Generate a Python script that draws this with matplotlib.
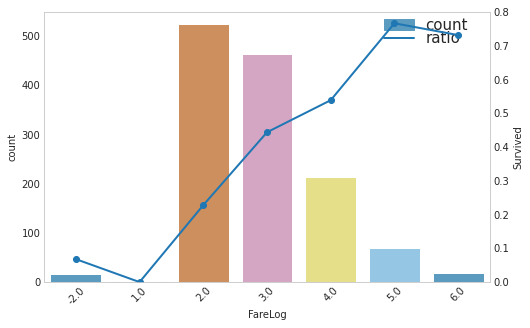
import numpy as np
import matplotlib
matplotlib.use("Agg")
import matplotlib.pyplot as plt
import seaborn as sns
from matplotlib.patches import Patch
from matplotlib.lines import Line2D

sns.set_style("whitegrid")
plt.rcParams['font.family'] = ['DejaVu Sans']

fare_bins = ["-2.0", "1.0", "2.0", "3.0", "4.0", "5.0", "6.0"]
counts = [16, 2, 524, 463, 213, 69, 18]
ratio = [0.068, 0.0, 0.228, 0.444, 0.539, 0.767, 0.732]
bar_colors = ["#5b9bbf", "#5ea88c", "#cd8f5e", "#d4a6c4", "#e6df8a", "#95c6e4", "#5b9bbf"]

fig = plt.figure(figsize=(530 / 72, 328 / 72), dpi=72)
ax = fig.add_axes([0.083, 0.140, 0.8415, 0.823])

x = np.arange(len(fare_bins))
ax.bar(x, counts, width=0.8, color=bar_colors)
ax.set_xlim(-0.5, len(fare_bins) - 0.5)
ax.set_ylim(0, 549)
ax.set_xticks(x)
ax.set_xticklabels(fare_bins, rotation=45)
ax.set_xlabel("FareLog")
ax.set_ylabel("count")
ax.grid(False)

ax2 = ax.twinx()
ax2.plot(x, ratio, color="#1f77b4", lw=2, marker="o", ms=6)
ax2.set_ylim(0, 0.8)
ax2.set_ylabel("Survived")
ax2.grid(False)

for a in (ax, ax2):
    for s in a.spines.values():
        s.set_color("#cccccc")
    a.tick_params(colors="#262626", length=0, labelsize=10)

# legend sits under the ratio line, as in the original
handles = [Patch(color="#5b9bbf"), Line2D([], [], color="#1f77b4", lw=2)]
ax.legend(handles, ["count", "ratio"], loc="upper right", frameon=False,
          fontsize=15, handlelength=2, labelspacing=-0.1, borderaxespad=0.2,
          bbox_to_anchor=(0.971, 1.012))

fig.savefig("out.png", dpi=72)
